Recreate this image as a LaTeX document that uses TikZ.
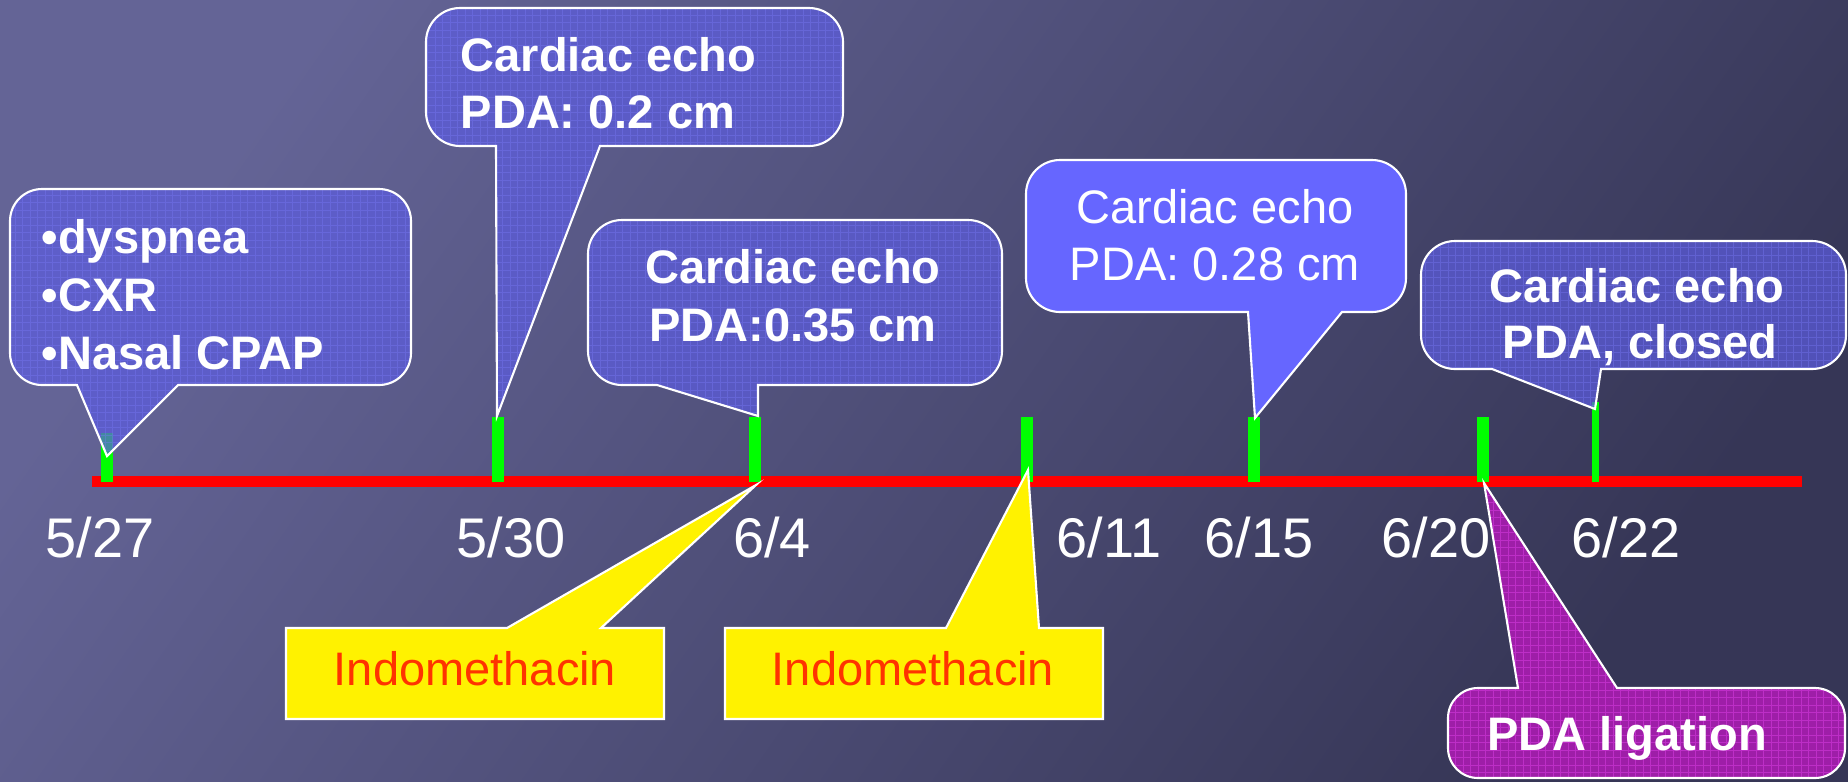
\documentclass[tikz,border=0pt]{standalone}
\usepackage{fontspec}
\setmainfont{Liberation Sans}
\definecolor{bgA}{RGB}{100,100,150}
\definecolor{bgB}{RGB}{54,54,86}
\definecolor{bubfill}{RGB}{92,92,222}
\definecolor{bubgrid}{RGB}{120,120,245}
\definecolor{bubsolid}{RGB}{102,102,255}
\definecolor{magfill}{RGB}{158,30,168}
\definecolor{maggrid}{RGB}{215,60,225}
\definecolor{tickgreen}{RGB}{0,255,0}
\definecolor{axisred}{RGB}{255,0,0}
\definecolor{indored}{RGB}{255,51,0}
\newcommand{\mycallout}[3]{%
  \fill[#2] #1;
  \begin{scope}
    \clip #1;
    \draw[#3, line width=0.25pt, step=0.075cm] (0,0) grid (1848,781);
  \end{scope}
  \draw[white, line width=0.6pt] #1;
}
\tikzset{
  wtxt/.style={text=white, inner sep=0pt, anchor=base, font=\fontsize{13.37pt}{16pt}\selectfont},
  btxt/.style={wtxt, font=\fontsize{13.37pt}{16pt}\selectfont\bfseries},
  datetxt/.style={text=white, inner sep=0pt, anchor=base, font=\fontsize{15.9pt}{19pt}\selectfont},
  indotxt/.style={text=indored, inner sep=0pt, anchor=base, font=\fontsize{13.37pt}{16pt}\selectfont},
  axisline/.style={draw=axisred, line width=0.11cm},
  tickline/.style={draw=tickgreen, line width=0.115cm},
  bluefill/.style={fill=bubfill, fill opacity=0.72},
  gridblue/.style={draw=bubgrid, draw opacity=0.4},
  magentafill/.style={fill=magfill},
  gridmag/.style={draw=maggrid, draw opacity=0.55},
  yellowbox/.style={fill=yellow, draw=white, line width=0.6pt},
}
\begin{document}
\begin{tikzpicture}[x=0.01cm, y=-0.01cm]
\useasboundingbox (0,0) rectangle (1848,781);
\shade[top color=bgA, bottom color=bgB, shading angle=55] (0,0) rectangle (1848,781);

% axis
\coordinate (ls) at (92,481.5);
\coordinate (le) at (1802,481.5);
\draw[axisline] (ls) -- (le);

% ticks
\coordinate (t1b) at (107,482); \coordinate (t1t) at (107,433);
\coordinate (t2b) at (498,482); \coordinate (t2t) at (498,417);
\coordinate (t3b) at (755,482); \coordinate (t3t) at (755,417);
\coordinate (t4b) at (1027,482); \coordinate (t4t) at (1027,417);
\coordinate (t5b) at (1254,482); \coordinate (t5t) at (1254,417);
\coordinate (t6b) at (1483,482); \coordinate (t6t) at (1483,417);
\coordinate (t7b) at (1595,482); \coordinate (t7t) at (1595,402);
\draw[tickline] (t1b) -- (t1t);
\draw[tickline] (t2b) -- (t2t);
\draw[tickline] (t3b) -- (t3t);
\draw[tickline] (t4b) -- (t4t);
\draw[tickline] (t5b) -- (t5t);
\draw[tickline] (t6b) -- (t6t);
\draw[tickline, line width=0.07cm] (t7b) -- (t7t);

% dates
\node[datetxt] (d1) at (100,557) {5/27};
\node[datetxt] (d2) at (511,557) {5/30};
\node[datetxt] (d3) at (772,557) {6/4};
\node[datetxt] (d4) at (1109,557) {6/11};
\node[datetxt] (d5) at (1259,557) {6/15};
\node[datetxt] (d6) at (1436,557) {6/20};
\node[datetxt] (d7) at (1626,557) {6/22};

% callout 1
\mycallout{(107,456) -- (77,385) [rounded corners=0.32cm] -- (10,385) -- (10,189) -- (411,189) -- (411,385) [sharp corners] -- (178,385) -- cycle}{bluefill}{gridblue}
\node[btxt, anchor=base west] (c1a) at (41,253) {•dyspnea};
\node[btxt, anchor=base west] (c1b) at (41,311) {•CXR};
\node[btxt, anchor=base west] (c1c) at (41,369) {•Nasal CPAP};

% callout 2
\mycallout{(497,416) -- (496,146) [rounded corners=0.34cm] -- (426,146) -- (426,8) -- (843,8) -- (843,146) [sharp corners] -- (600,146) -- cycle}{bluefill}{gridblue}
\node[btxt, anchor=base west] (c2a) at (460,71) {Cardiac echo};
\node[btxt, anchor=base west] (c2b) at (460,128) {PDA: 0.2 cm};

% callout 3
\mycallout{(758,416) -- (657,385) [rounded corners=0.34cm] -- (588,385) -- (588,220) -- (1002,220) -- (1002,385) [sharp corners] -- (758,385) -- cycle}{bluefill}{gridblue}
\node[btxt] (c3a) at (793,283) {Cardiac echo};
\node[btxt] (c3b) at (793,341) {PDA:0.35 cm};

% callout 4 (solid)
\draw[fill=bubsolid, draw=white, line width=0.6pt] (1255,418) -- (1248,312) [rounded corners=0.34cm] -- (1026,312) -- (1026,160) -- (1406,160) -- (1406,312) [sharp corners] -- (1342,312) -- cycle;
\node[wtxt] (c4a) at (1215,223) {Cardiac echo};
\node[wtxt] (c4b) at (1215,280) {PDA: 0.28 cm};

% callout 5
\mycallout{(1595,409) -- (1492,369) [rounded corners=0.34cm] -- (1421,369) -- (1421,241) -- (1846,241) -- (1846,369) [sharp corners] -- (1601,369) -- cycle}{bluefill}{gridblue}
\node[btxt] (c5a) at (1637,302) {Cardiac echo};
\node[btxt] (c5b) at (1640,358) {PDA, closed};

% yellow boxes
\draw[yellowbox] (756,485) -- (601,628) -- (664,628) -- (664,719) -- (286,719) -- (286,628) -- (507,628) -- cycle;
\node[indotxt] (ya) at (475,685) {Indomethacin};
\draw[yellowbox] (1028,470) -- (1039,628) -- (1103,628) -- (1103,719) -- (725,719) -- (725,628) -- (946,628) -- cycle;
\node[indotxt] (yb) at (913,685) {Indomethacin};

% callout 6 (magenta)
\mycallout{(1484,483) -- (1518,688) [rounded corners=0.3cm] -- (1448,688) -- (1448,778) -- (1845,778) -- (1845,688) [sharp corners] -- (1617,688) -- cycle}{magentafill}{gridmag}
\node[btxt] (c6) at (1627,750) {PDA ligation};
\end{tikzpicture}
\end{document}
